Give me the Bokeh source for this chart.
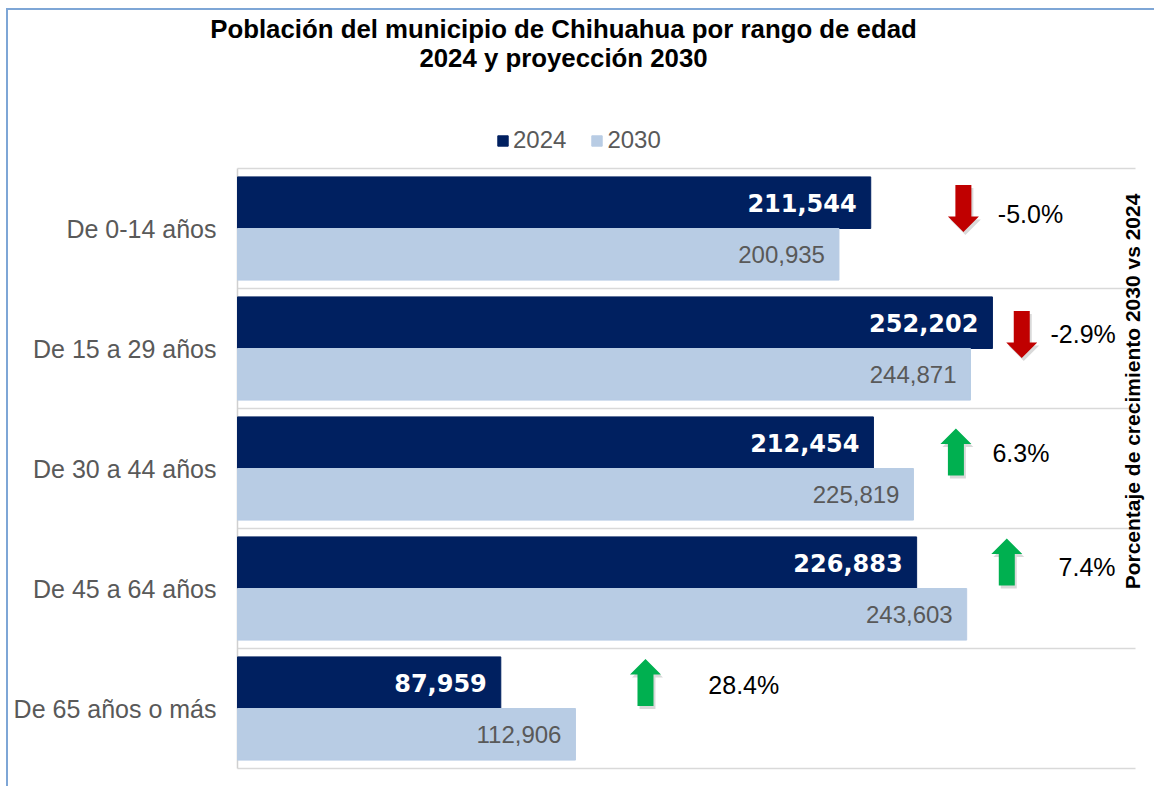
import math
from bokeh.plotting import figure
from bokeh.models import (Range1d, Label, Legend, LegendItem, ColumnDataSource)
from bokeh.core.properties import value
from bokeh.embed import file_html
from bokeh.resources import INLINE

# ---------------- data ----------------
categories = ["De 0-14 años", "De 15 a 29 años", "De 30 a 44 años", "De 45 a 64 años", "De 65 años o más"]
pop_2024 = [211544, 252202, 212454, 226883, 87959]
pop_2030 = [200935, 244871, 225819, 243603, 112906]
growth_pct = [-5.0, -2.9, 6.3, 7.4, 28.4]
series = ["2024", "2030"]
x_axis_max = 300000

# annotation placement (data units: x = population scale, y = offset within row)
arrow_x = [242500, 262000, 240000, 257000, 136300]
arrow_dy = [-0.167, -0.117, -0.137, -0.221, -0.217]
pct_x = [254000, 271600, 252200, 274300, 157300]
pct_dy = [-0.117, -0.117, -0.133, -0.183, -0.2]

# ---------------- styles / layout ----------------
DARK = "#002060"
LIGHT = "#b8cce4"
GRAY_TXT = "#595959"
RED = "#c00000"
GREEN = "#00b050"
FONT = "Liberation Sans"

W, H = 1148, 778          # canvas (frame fills it)
ORG_X, ORG_Y = 8, 10      # canvas origin on the page
AX_L, AX_T, AX_R, AX_B = 237, 168, 1135, 768   # plotting area on the page
NROWS = len(categories)
PXX = x_axis_max / (AX_R - AX_L)     # data units per pixel (x)
PXY = NROWS / (AX_B - AX_T)          # data units per pixel (y)

x_start = -(AX_L - ORG_X) * PXX
x_end = (ORG_X + W - AX_L) * PXX
y_top = -(AX_T - ORG_Y) * PXY
y_bot = (ORG_Y + H - AX_T) * PXY

p = figure(width=W, height=H, output_backend="svg", toolbar_location=None,
           x_range=Range1d(x_start, x_end), y_range=Range1d(y_bot, y_top),
           min_border=0)
p.styles = {"border-top": "2px solid #7ea6d6", "border-left": "2px solid #7ea6d6",
            "margin-left": "6px", "margin-top": "8px"}
p.outline_line_color = None
p.background_fill_color = "white"
p.border_fill_color = "white"
p.xaxis.visible = False
p.yaxis.visible = False
p.xgrid.visible = False
p.ygrid.visible = False

centers = [i + 0.5 for i in range(NROWS)]
bounds = list(range(NROWS + 1))

# row separators and axis lines
p.segment(x0=[0] * len(bounds), x1=[x_axis_max] * len(bounds), y0=bounds, y1=bounds,
          line_color="#d9d9d9", line_width=1.5)
p.segment(x0=[0], x1=[0], y0=[0], y1=[NROWS], line_color="#d0d0d0", line_width=1.5)

# category labels
p.text(x=[0] * NROWS, y=centers, text=categories, x_offset=-21, text_align="right",
       text_baseline="middle", text_color=GRAY_TXT, text_font=value(FONT), text_font_size="25px")

# bars
BH = 0.43
y24 = [c - BH / 2 for c in centers]
y30 = [c + BH / 2 for c in centers]
src24 = ColumnDataSource(dict(y=y24, v=pop_2024, lab=[f"{v:,}" for v in pop_2024]))
src30 = ColumnDataSource(dict(y=y30, v=pop_2030, lab=[f"{v:,}" for v in pop_2030]))
r24 = p.hbar(y="y", right="v", left=0, height=BH, source=src24, fill_color=DARK, line_color=DARK)
r30 = p.hbar(y="y", right="v", left=0, height=BH, source=src30, fill_color=LIGHT, line_color=LIGHT)

p.text(x="v", y="y", text="lab", source=src24, x_offset=-14, text_align="right",
       text_baseline="middle", text_color="white", text_font=value("DejaVu Sans"),
       text_font_style="bold", text_font_size="24px")
p.text(x="v", y="y", text="lab", source=src30, x_offset=-14, text_align="right",
       text_baseline="middle", text_color=GRAY_TXT, text_font=value(FONT),
       text_font_size="24px")

# arrows
shape = [(-8, -23.5), (8, -23.5), (8, 8), (15.5, 8), (0, 23.5), (-15.5, 8), (-8, 8)]  # down arrow, px
xs, ys, cols, sxs, sys_ = [], [], [], [], []
for i, g in enumerate(growth_pct):
    cx = arrow_x[i]
    cy = centers[i] + arrow_dy[i]
    sgn = 1 if g < 0 else -1
    xs.append([cx + dx * PXX for dx, dy in shape])
    ys.append([cy + sgn * dy * PXY for dx, dy in shape])
    sxs.append([cx + (dx + 2) * PXX for dx, dy in shape])
    sys_.append([cy + (sgn * dy + 3) * PXY for dx, dy in shape])
    cols.append(RED if g < 0 else GREEN)
p.patches(xs=sxs, ys=sys_, fill_color="black", fill_alpha=0.15, line_color=None)
p.patches(xs=xs, ys=ys, fill_color=cols, line_color=None)

# percentages
psrc = ColumnDataSource(dict(x=pct_x, y=[centers[i] + pct_dy[i] for i in range(NROWS)],
                             t=[f"{g:.1f}%" for g in growth_pct]))
p.text(x="x", y="y", text="t", source=psrc, text_align="left", text_baseline="middle",
       text_color="black", text_font=value(FONT), text_font_size="25px")

# rotated side label
p.add_layout(Label(x=(1132 - AX_L) * PXX, y=(391 - AX_T) * PXY,
                   text="Porcentaje de crecimiento 2030 vs 2024", angle=math.pi / 2,
                   text_align="center", text_baseline="middle", text_font=FONT,
                   text_font_style="bold", text_font_size="21px", text_color="black"))

# title
TX = (563 - AX_L) * PXX
p.add_layout(Label(x=TX, y=(28 - AX_T) * PXY, text="Población del municipio de Chihuahua por rango de edad",
                   text_align="center", text_baseline="middle", text_font=FONT, text_font_style="bold",
                   text_font_size="25.8px", text_color="black"))
p.add_layout(Label(x=TX, y=(57 - AX_T) * PXY, text="2024 y proyección 2030",
                   text_align="center", text_baseline="middle", text_font=FONT, text_font_style="bold",
                   text_font_size="25.8px", text_color="black"))

# legend (location = bottom-left corner, pixels from the frame's bottom-left)
legend = Legend(items=[LegendItem(label=series[0], renderers=[r24]), LegendItem(label=series[1], renderers=[r30])],
                orientation="horizontal", location=(496 - ORG_X, ORG_Y + H - 154), glyph_width=13,
                glyph_height=13, label_standoff=4, spacing=24, padding=0, margin=0,
                border_line_color=None, background_fill_alpha=0, label_text_font=FONT,
                label_text_font_size="24px", label_text_color=GRAY_TXT)
p.add_layout(legend, "center")

open("out.html", "w").write(file_html(p, INLINE))
